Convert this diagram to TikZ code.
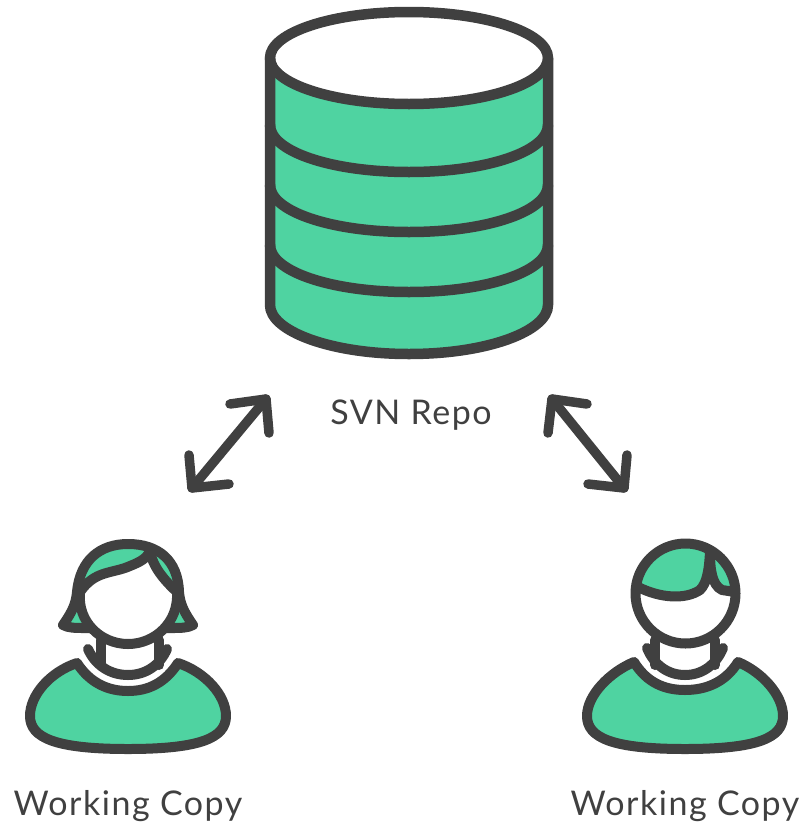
\documentclass[tikz,border=0pt]{standalone}
\usepackage{fontspec}
\setmainfont[LetterSpace=4.5]{Lato}
\definecolor{mint}{HTML}{4FD3A1}
\definecolor{ink}{HTML}{404040}
\tikzset{
  outline/.style={draw=ink,line width=10pt,line join=round,line cap=round},
  thick outline/.style={draw=ink,line width=10.5pt,line join=round,line cap=round},
  twoway/.style={draw=ink,line width=9.5pt,line cap=round,line join=round},
  caption/.style={text=ink,font=\fontsize{34}{38}\selectfont,inner sep=0pt}
}
\newcommand{\cylband}[1]{(270,#1) .. controls (270,#1+26) and (330,#1+47) .. (409,#1+47) .. controls (488,#1+47) and (548,#1+26) .. (548,#1)}
\begin{document}
\begin{tikzpicture}[x=1pt,y=-1pt]
\useasboundingbox (0,0) rectangle (805,825);
% repository
\fill[mint] (270,58) -- (270,305) .. controls (270,331) and (330,354) .. (409,354) .. controls (488,354) and (548,331) .. (548,305) -- (548,58) -- cycle;
\draw[thick outline,fill=white] (409,58) ellipse [x radius=139pt,y radius=46pt];
\draw[thick outline] \cylband{125};
\draw[thick outline] \cylband{185};
\draw[thick outline] \cylband{245};
\draw[thick outline] (270,58) -- (270,305) .. controls (270,331) and (330,354) .. (409,354) .. controls (488,354) and (548,331) .. (548,305) -- (548,58);
\node[caption] (repo) at (411,415) {SVN Repo};
% arrows
\coordinate (a1) at (192,488); \coordinate (a2) at (266,399);
\coordinate (a1p) at (189,455); \coordinate (a1q) at (229,484);
\coordinate (a2p) at (230,404); \coordinate (a2q) at (269,433);
\draw[twoway] (a1) -- (a2);
\draw[twoway] (a1p) -- (a1) -- (a1q);
\draw[twoway] (a2p) -- (a2) -- (a2q);
\coordinate (b1) at (552,399); \coordinate (b2) at (624,488);
\coordinate (b1p) at (587,404); \coordinate (b1q) at (548,433);
\coordinate (b2p) at (627,455); \coordinate (b2q) at (588,484);
\draw[twoway] (b1) -- (b2);
\draw[twoway] (b1p) -- (b1) -- (b1q);
\draw[twoway] (b2p) -- (b2) -- (b2q);
% left person
\draw[outline,fill=mint] (77,663) .. controls (90,683) and (108,691) .. (128,691) .. controls (148,691) and (165,683) .. (178,663) .. controls (205,672) and (226,695) .. (226,716) .. controls (226,738) and (200,749) .. (128,749) .. controls (56,749) and (30,738) .. (30,716) .. controls (30,695) and (50,672) .. (77,663) -- cycle;
\draw[outline] (88,649) .. controls (95,665) and (110,675) .. (128,675) .. controls (146,675) and (160,665) .. (167,649);
\draw[outline] (101,640) -- (101,665);
\draw[outline] (159,640) -- (159,665);
\draw[outline,fill=mint] (63,625) .. controls (72,612) and (76,604) .. (77,592) .. controls (80,560) and (100,544) .. (128,544) .. controls (158,544) and (178,560) .. (179,592) .. controls (180,604) and (184,612) .. (193,625) .. controls (188,628) and (180,628) .. (172,628) -- (84,628) .. controls (76,628) and (68,628) .. (63,625) -- cycle;
\draw[outline,fill=white] (80,592) .. controls (95,570) and (112,574) .. (130,566) .. controls (140,562) and (148,558) .. (150,550) .. controls (152,566) and (164,580) .. (177,592) .. controls (179,622) and (155,644) .. (128,644) .. controls (101,644) and (77,622) .. (80,592) -- cycle;
% right person
\draw[outline,fill=mint] (634,662) .. controls (647,683) and (665,690) .. (685,690) .. controls (705,690) and (725,683) .. (738,662) .. controls (762,672) and (783,695) .. (783,716) .. controls (783,738) and (757,749) .. (685,749) .. controls (613,749) and (587,738) .. (587,716) .. controls (587,695) and (610,672) .. (634,662) -- cycle;
\draw[outline] (647,648) .. controls (654,665) and (668,675) .. (685,675) .. controls (702,675) and (716,665) .. (723,648);
\draw[outline] (655,640) -- (655,665);
\draw[outline] (715,640) -- (715,665);
\coordinate (hc) at (685.5,593.5);
\fill[mint] (hc) circle (50pt);
\begin{scope}
\clip (hc) circle (50pt);
\fill[white] (630,585) -- (638,587) .. controls (660,598) and (685,600) .. (700,590) .. controls (707,583) and (709,570) .. (710,552) .. controls (710,570) and (712,585) .. (722,590) -- (745,592) -- (745,660) -- (630,660) -- cycle;
\end{scope}
\draw[outline] (638,587) .. controls (660,598) and (685,600) .. (700,590) .. controls (707,583) and (709,570) .. (710,552) .. controls (710,570) and (712,585) .. (722,590) -- (735,592);
\draw[outline] (hc) circle (50pt);
% labels
\node[caption] (left) at (128,806) {Working Copy};
\node[caption] (right) at (685,806) {Working Copy};
\end{tikzpicture}
\end{document}
